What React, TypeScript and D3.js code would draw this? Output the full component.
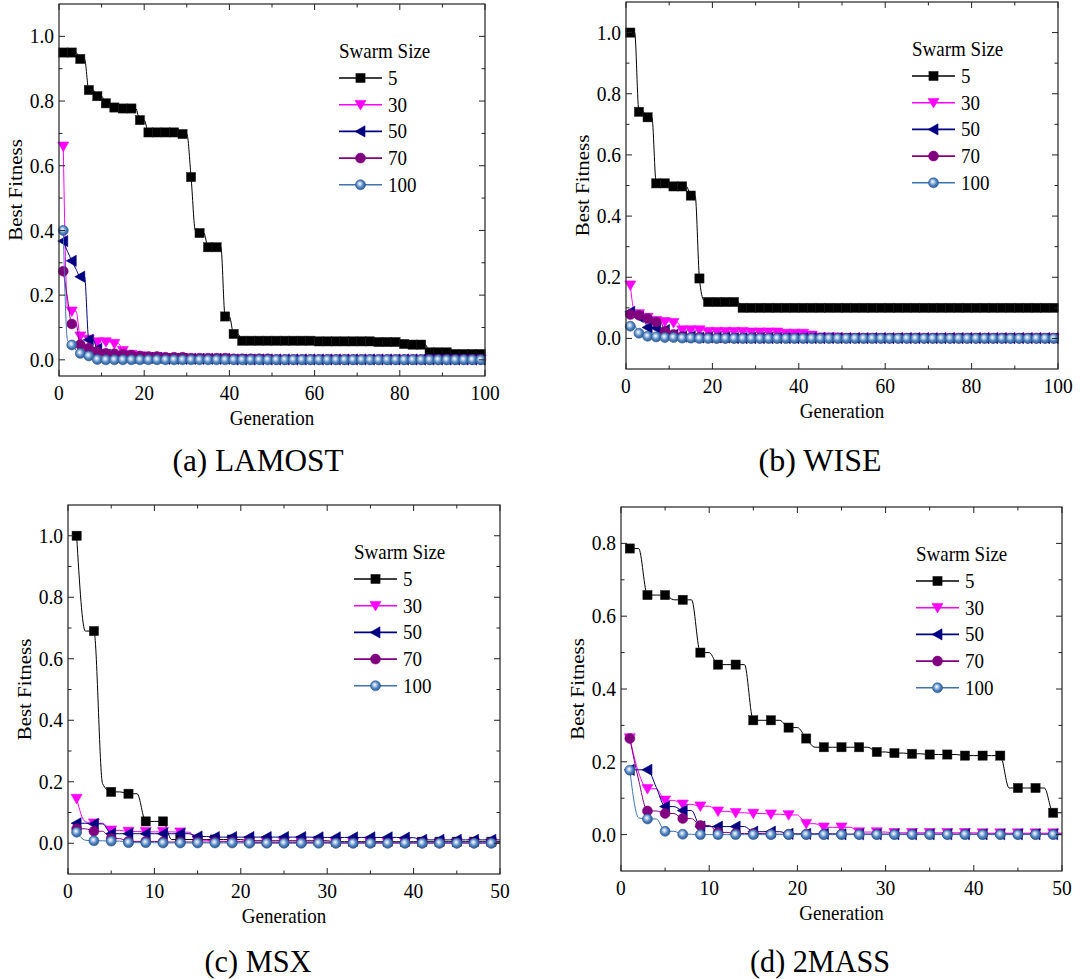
import React from "react";
import * as d3 from "d3";

type Pt = [number, number];

// legend order and styling of the five swarm sizes
const swarmSizes = ["5", "30", "50", "70", "100"];
const seriesColors = ["#000000", "#ff00ff", "#000080", "#800080", "#3f72b0"];
const markerShapes = ["square", "down", "left", "circle", "ball"];

// best fitness per generation, given as [generation, value] where the value changes
// (a) LAMOST
const lamost5: Pt[] = [[1, 0.95], [5, 0.93], [7, 0.834], [9, 0.815], [11, 0.793], [13, 0.78], [15, 0.777], [19, 0.741], [21, 0.703], [29, 0.698], [31, 0.565], [32, 0.4], [33, 0.392], [35, 0.348], [39, 0.134], [41, 0.08], [43, 0.059], [61, 0.057], [75, 0.055], [81, 0.049], [83, 0.047], [87, 0.023], [93, 0.018]];
const lamost30: Pt[] = [[1, 0.66], [2, 0.16], [3, 0.15], [5, 0.073], [7, 0.063], [9, 0.055], [13, 0.05], [15, 0.028], [17, 0.016], [19, 0.012], [21, 0.009], [25, 0.006], [31, 0.004], [41, 0.002], [51, 0.001]];
const lamost50: Pt[] = [[1, 0.367], [2, 0.335], [3, 0.306], [4, 0.28], [5, 0.257], [7, 0.062], [9, 0.034], [11, 0.016], [13, 0.01], [17, 0.006], [25, 0.003], [41, 0.001]];
const lamost70: Pt[] = [[1, 0.274], [2, 0.19], [3, 0.111], [5, 0.047], [7, 0.036], [9, 0.025], [11, 0.02], [13, 0.019], [15, 0.017], [17, 0.015], [19, 0.012], [21, 0.01], [25, 0.008], [31, 0.005], [41, 0.003], [51, 0.001]];
const lamost100: Pt[] = [[1, 0.4], [2, 0.06], [3, 0.046], [4, 0.03], [5, 0.02], [7, 0.012], [9, 0.001], [11, 0]];

// (b) WISE
const wise5: Pt[] = [[1, 1.0], [3, 0.741], [5, 0.723], [7, 0.507], [11, 0.497], [15, 0.467], [17, 0.196], [18, 0.125], [19, 0.119], [27, 0.1]];
const wise30: Pt[] = [[1, 0.174], [2, 0.085], [3, 0.08], [5, 0.068], [7, 0.058], [9, 0.054], [11, 0.051], [13, 0.027], [19, 0.022], [29, 0.02], [37, 0.016], [43, 0.01], [45, 0.004], [51, 0.002], [61, 0.001]];
const wise50: Pt[] = [[1, 0.087], [3, 0.07], [5, 0.036], [7, 0.034], [9, 0.027], [11, 0.012], [13, 0.006], [17, 0.003], [25, 0.001]];
const wise70: Pt[] = [[1, 0.078], [3, 0.076], [5, 0.065], [7, 0.054], [9, 0.023], [11, 0.013], [13, 0.006], [15, 0.003], [21, 0.001]];
const wise100: Pt[] = [[1, 0.04], [3, 0.017], [5, 0.007], [7, 0.005], [9, 0.003], [13, 0.001], [17, 0]];

// (c) MSX
const msx5: Pt[] = [[1, 1.0], [2, 0.69], [4, 0.194], [5, 0.167], [7, 0.161], [9, 0.071], [12, 0.012], [21, 0.008], [31, 0.005]];
const msx30: Pt[] = [[1, 0.145], [2, 0.07], [3, 0.065], [5, 0.042], [7, 0.038], [9, 0.037], [13, 0.036], [15, 0.01], [17, 0.006], [21, 0.004], [31, 0.002], [41, 0.001]];
const msx50: Pt[] = [[1, 0.065], [3, 0.063], [5, 0.031], [15, 0.022], [17, 0.02], [29, 0.019], [39, 0.018], [41, 0.011]];
const msx70: Pt[] = [[1, 0.047], [3, 0.039], [5, 0.015], [7, 0.006], [11, 0.004], [21, 0.002], [31, 0.001]];
const msx100: Pt[] = [[1, 0.036], [2, 0.01], [3, 0.008], [5, 0.007], [7, 0.002], [11, 0.001], [21, 0]];

// (d) 2MASS
const twomass5: Pt[] = [[1, 0.786], [3, 0.658], [6, 0.645], [9, 0.5], [11, 0.467], [15, 0.314], [19, 0.294], [21, 0.264], [22, 0.24], [29, 0.227], [31, 0.224], [33, 0.222], [35, 0.22], [39, 0.217], [44, 0.128], [49, 0.06]];
const twomass30: Pt[] = [[1, 0.265], [2, 0.17], [3, 0.126], [5, 0.094], [7, 0.083], [9, 0.078], [11, 0.064], [13, 0.06], [15, 0.058], [17, 0.056], [19, 0.054], [21, 0.03], [23, 0.02], [27, 0.007], [31, 0.005], [41, 0.004]];
const twomass50: Pt[] = [[1, 0.178], [4, 0.13], [5, 0.077], [7, 0.066], [9, 0.022], [15, 0.008], [19, 0.002], [25, 0.001]];
const twomass70: Pt[] = [[1, 0.264], [2, 0.15], [3, 0.065], [5, 0.058], [7, 0.044], [9, 0.025], [11, 0.006], [13, 0.003], [17, 0.001]];
const twomass100: Pt[] = [[1, 0.177], [2, 0.046], [3, 0.043], [5, 0.009], [7, 0.001], [9, 0]];

// tick labels
const genTicks100 = [0, 20, 40, 60, 80, 100];
const genTicks50 = [0, 10, 20, 30, 40, 50];
const fitTicks10 = [0, 0.2, 0.4, 0.6, 0.8, 1.0];
const fitTicks08 = [0, 0.2, 0.4, 0.6, 0.8];

const FONT = "'Liberation Serif', 'Times New Roman', serif";

const panels = [
  { caption: "(a) LAMOST", capW: 171, cx: 258, cy: 471, series: [lamost5, lamost30, lamost50, lamost70, lamost100], gens: 100, xTicks: genTicks100, xMinor: 10, yTicks: fitTicks10, yDomain: [-0.05, 1.1], box: { l: 59, r: 485, t: 4, b: 376 } },
  { caption: "(b) WISE", capW: 123, cx: 820, cy: 471, series: [wise5, wise30, wise50, wise70, wise100], gens: 100, xTicks: genTicks100, xMinor: 10, yTicks: fitTicks10, yDomain: [-0.1, 1.1], box: { l: 626, r: 1058, t: 2, b: 369 } },
  { caption: "(c) MSX", capW: 107, cx: 258, cy: 972, series: [msx5, msx30, msx50, msx70, msx100], gens: 50, xTicks: genTicks50, xMinor: 5, yTicks: fitTicks10, yDomain: [-0.1, 1.1], box: { l: 68, r: 500, t: 505, b: 874 } },
  { caption: "(d) 2MASS", capW: 140, cx: 820, cy: 972, series: [twomass5, twomass30, twomass50, twomass70, twomass100], gens: 50, xTicks: genTicks50, xMinor: 5, yTicks: fitTicks08, yDomain: [-0.1, 0.9], box: { l: 621, r: 1062, t: 507, b: 871 } },
];

// value holds from one change point to the next
function expand(changes: Pt[], last: number): Pt[] {
  const out: Pt[] = [];
  let i = 0;
  for (let g = changes[0][0]; g <= last; g++) {
    while (i + 1 < changes.length && changes[i + 1][0] <= g) i++;
    out.push([g, changes[i][1]]);
  }
  return out;
}

function Marker({ shape, color, x, y }: { shape: string; color: string; x: number; y: number }) {
  if (shape === "square") return <rect x={x - 4.6} y={y - 4.6} width={9.2} height={9.2} fill={color} stroke="#222" strokeWidth={0.5} />;
  if (shape === "down")
    return <polygon points={`${x - 5.5},${y - 4.3} ${x + 5.5},${y - 4.3} ${x},${y + 5.3}`} fill={color} stroke={color} strokeWidth={0.6} />;
  if (shape === "left")
    return <polygon points={`${x - 5.5},${y} ${x + 4.5},${y - 5.6} ${x + 4.5},${y + 5.6}`} fill={color} stroke={color} strokeWidth={0.6} />;
  if (shape === "circle") return <circle cx={x} cy={y} r={5} fill={color} stroke={color} strokeWidth={0.5} />;
  return <circle cx={x} cy={y} r={5} fill="url(#ball)" stroke="#2b5890" strokeWidth={0.6} />;
}

function Txt({ x, y, children, anchor = "middle", size = 19, rot = false, dy = 0 }: any) {
  const tf = rot ? `translate(${x},${y}) rotate(-90) scale(1.1,1)` : `translate(${x},${y}) scale(1,1.1)`;
  return (
    <text transform={tf} dy={dy} textAnchor={anchor} fontFamily={FONT} fontSize={size} fill="#000">
      {children}
    </text>
  );
}

function Panel({ p }: { p: (typeof panels)[number] }) {
  const { l, r, t, b } = p.box;
  const x = d3.scaleLinear().domain([0, p.gens]).range([l, r]);
  const y = d3.scaleLinear().domain(p.yDomain).range([b, t]);
  const line = d3
    .line<Pt>()
    .x((d) => x(d[0]))
    .y((d) => y(d[1]))
    .curve(d3.curveMonotoneX);

  const xMinor = d3.range(p.xMinor, p.gens, p.xMinor).filter((v) => !p.xTicks.includes(v));
  const yMinor = d3
    .range(-0.1, p.yDomain[1], 0.1)
    .map((v) => Math.round(v * 10) / 10)
    .filter((v) => v > p.yDomain[0] && v < p.yDomain[1] - 0.001 && !p.yTicks.some((tk) => Math.abs(tk - v) < 1e-6));

  const fmt = d3.format(".1f");
  const legX = r - 146;
  const legY = t + 74;
  const step = 26.7;

  return (
    <g>
      {p.series.map((s, k) => {
        const pts = expand(s, p.gens);
        return (
          <g key={k}>
            <path d={line(pts) || ""} fill="none" stroke={seriesColors[k]} strokeWidth={1} />
            {pts
              .filter((d) => d[0] % 2 === 1)
              .map((d, j) => (
                <Marker key={j} shape={markerShapes[k]} color={seriesColors[k]} x={x(d[0])} y={y(d[1])} />
              ))}
          </g>
        );
      })}

      <rect x={l} y={t} width={r - l} height={b - t} fill="none" stroke="#222" strokeWidth={1.2} />

      {p.xTicks.map((v) => (
        <g key={"xt" + v}>
          <line x1={x(v)} x2={x(v)} y1={b} y2={b - 6} stroke="#222" />
          <line x1={x(v)} x2={x(v)} y1={t} y2={t + 6} stroke="#222" />
          <Txt x={x(v)} y={b + 24} size={19.5}>{v}</Txt>
        </g>
      ))}
      {xMinor.map((v) => (
        <g key={"xm" + v}>
          <line x1={x(v)} x2={x(v)} y1={b} y2={b - 3.5} stroke="#222" />
          <line x1={x(v)} x2={x(v)} y1={t} y2={t + 3.5} stroke="#222" />
        </g>
      ))}
      {p.yTicks.map((v) => (
        <g key={"yt" + v}>
          <line x1={l} x2={l + 6} y1={y(v)} y2={y(v)} stroke="#222" />
          <line x1={r} x2={r - 6} y1={y(v)} y2={y(v)} stroke="#222" />
          <Txt x={l - 5} y={y(v)} anchor="end" size={19.5} dy="0.33em">{fmt(v)}</Txt>
        </g>
      ))}
      {yMinor.map((v) => (
        <g key={"ym" + v}>
          <line x1={l} x2={l + 3.5} y1={y(v)} y2={y(v)} stroke="#222" />
          <line x1={r} x2={r - 3.5} y1={y(v)} y2={y(v)} stroke="#222" />
        </g>
      ))}

      <Txt x={(l + r) / 2} y={b + 49}>Generation</Txt>
      <Txt x={l - 43} y={(t + b) / 2} rot dy="0.33em">Best Fitness</Txt>

      <Txt x={legX} y={t + 47.5} anchor="start" dy="0.33em">Swarm Size</Txt>
      {swarmSizes.map((name, k) => (
        <g key={name}>
          <line x1={legX} x2={legX + 43} y1={legY + k * step} y2={legY + k * step} stroke={seriesColors[k]} strokeWidth={1.6} />
          <Marker shape={markerShapes[k]} color={seriesColors[k]} x={legX + 21.5} y={legY + k * step} />
          <Txt x={legX + 49} y={legY + k * step} anchor="start" dy="0.33em">{name}</Txt>
        </g>
      ))}

      <text transform={`translate(${p.cx},${p.cy}) scale(1,1.12)`} textAnchor="middle" fontFamily={FONT} fontSize={28} textLength={p.capW} lengthAdjust="spacingAndGlyphs" fill="#000">
        {p.caption}
      </text>
    </g>
  );
}

export default function App() {
  return (
    <svg width={1081} height={979} style={{ position: "absolute", left: 0, top: 0, background: "#fff" }}>
      <defs>
        <radialGradient id="ball" cx="0.45" cy="0.45" r="0.6" fx="0.42" fy="0.38">
          <stop offset="0" stopColor="#ffffff" />
          <stop offset="0.25" stopColor="#b8d0ea" />
          <stop offset="0.6" stopColor="#4c80be" />
          <stop offset="1" stopColor="#2b5890" />
        </radialGradient>
      </defs>
      <rect width={1081} height={979} fill="#fff" />
      {panels.map((p) => (
        <Panel key={p.caption} p={p} />
      ))}
    </svg>
  );
}
